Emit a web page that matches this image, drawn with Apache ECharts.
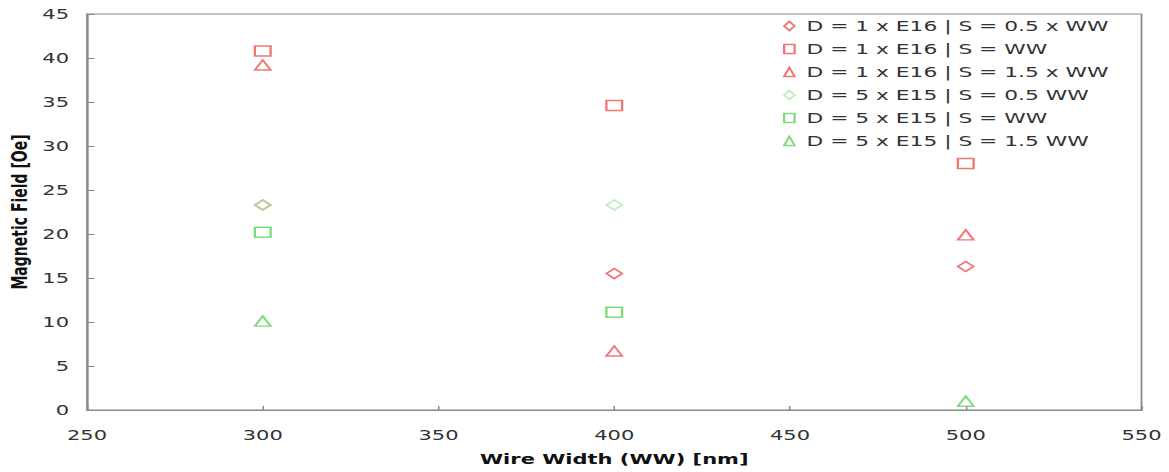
<!DOCTYPE html>
<html>
<head>
<meta charset="utf-8">
<script src="https://cdn.jsdelivr.net/npm/echarts@6/dist/echarts.min.js"></script>
<style>
  html, body { margin: 0; padding: 0; background: #fff; overflow: hidden; }
  /* the source picture is stretched sideways, so draw narrow and stretch */
  #chart { width: 779px; height: 472px; transform: scaleX(1.5); transform-origin: 0 0; }
</style>
</head>
<body>
<div id="chart"></div>
<script>
var names = [
    'D = 1 x E16 | S = 0.5 x WW',
    'D = 1 x E16 | S = WW',
    'D = 1 x E16 | S = 1.5 x WW',
    'D = 5 x E15 | S = 0.5 WW',
    'D = 5 x E15 | S = WW',
    'D = 5 x E15 | S = 1.5 WW'
];
var d16_half = [[300, 23.3], [400, 15.5], [500, 16.3]];
var d16_ww = [[300, 40.8], [400, 34.6], [500, 28.0]];
var d16_onehalf = [[300, 39.2], [400, 6.7], [500, 19.9]];
var d15_half = [[300, 23.3], [400, 23.3]];
var d15_ww = [[300, 20.2], [400, 11.1]];
var d15_onehalf = [[300, 10.1], [500, 1.0]];
var xTicks = [250, 550, 50];
var yTicks = [0, 45, 5];

var red = '#e8564f', green = '#5ed25e', pale = '#ace8ac';
var font = 'DejaVu Sans';

function dots(name, data, symbol, color) {
    return {
        name: name,
        type: 'scatter',
        data: data,
        symbol: symbol,
        symbolSize: [10.5, 10],
        itemStyle: { color: 'transparent', borderColor: color, borderWidth: 1.5 }
    };
}

var chart = echarts.init(document.getElementById('chart'), null, { renderer: 'svg' });
var option = {
    backgroundColor: '#fff',
    animation: false,
    grid: {
        left: 58, right: 18, top: 14, bottom: 62,
        outerBoundsMode: 'none',
        show: true, borderColor: '#8a8a8a', borderWidth: 1.2
    },
    legend: {
        orient: 'vertical',
        left: 517,
        top: 13,
        itemWidth: 7,
        itemHeight: 9,
        itemGap: 7,
        itemStyle: { borderWidth: 1.5 },
        textStyle: { fontFamily: font, fontSize: 14.5, color: '#333', lineHeight: 16, padding: [0, 0, 0, 3] },
        data: names
    },
    xAxis: {
        type: 'value',
        min: xTicks[0], max: xTicks[1], interval: xTicks[2],
        name: 'Wire Width (WW) [nm]',
        nameLocation: 'middle',
        nameGap: 42,
        nameMoveOverlap: false,
        nameTextStyle: { fontFamily: font, fontSize: 14, fontWeight: 'bold', color: '#111' },
        axisLine: { lineStyle: { color: '#8a8a8a', width: 1.2 } },
        axisTick: { inside: true, length: 4, lineStyle: { color: '#8a8a8a' } },
        axisLabel: { fontFamily: font, fontSize: 14, color: '#333', margin: 18 },
        splitLine: { show: false }
    },
    yAxis: {
        type: 'value',
        min: yTicks[0], max: yTicks[1], interval: yTicks[2],
        name: 'Magnetic Field [Oe]',
        nameLocation: 'middle',
        nameGap: 38,
        nameMoveOverlap: false,
        nameTextStyle: { fontFamily: font, fontSize: 14, fontWeight: 'bold', color: '#111' },
        axisLine: { lineStyle: { color: '#8a8a8a', width: 1.2 } },
        axisTick: { inside: true, length: 5, lineStyle: { color: '#8a8a8a' } },
        axisLabel: { fontFamily: font, fontSize: 14, color: '#333', margin: 12 },
        splitLine: { show: false }
    },
    series: [
        dots(names[0], d16_half, 'diamond', red),
        dots(names[1], d16_ww, 'rect', red),
        dots(names[2], d16_onehalf, 'triangle', red),
        dots(names[3], d15_half, 'diamond', pale),
        dots(names[4], d15_ww, 'rect', green),
        dots(names[5], d15_onehalf, 'triangle', green)
    ]
};
chart.setOption(option);
</script>
</body>
</html>
